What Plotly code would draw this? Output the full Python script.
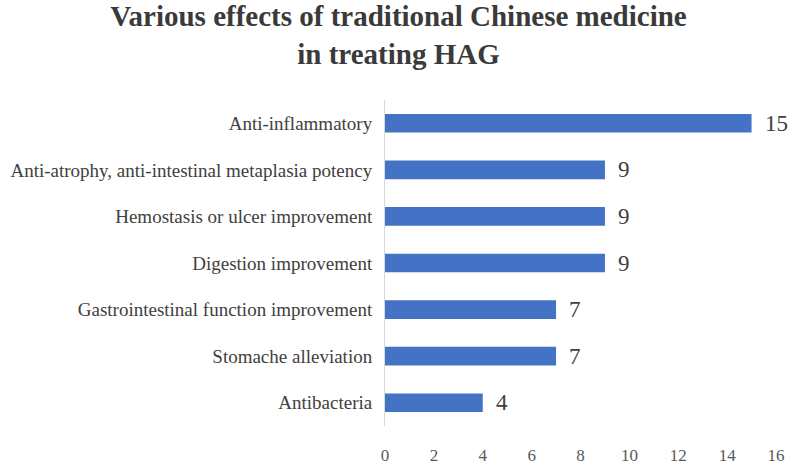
import plotly.graph_objects as go

categories = [
    "Anti-inflammatory",
    "Anti-atrophy, anti-intestinal metaplasia potency",
    "Hemostasis or ulcer improvement",
    "Digestion improvement",
    "Gastrointestinal function improvement",
    "Stomache alleviation",
    "Antibacteria",
]
values = [15, 9, 9, 9, 7, 7, 4]
x_ticks = [0, 2, 4, 6, 8, 10, 12, 14, 16]

fig = go.Figure()
fig.add_trace(go.Bar(
    x=values, y=categories, orientation="h",
    marker=dict(color="#4472C4", line=dict(width=0)),
    width=0.4, hoverinfo="skip",
))
for c, v in zip(categories, values):
    fig.add_annotation(x=v, y=c, text=str(v), showarrow=False,
                       xanchor="left", xshift=11,
                       font=dict(family="Liberation Serif", size=23, color="#404040"))

fig.update_layout(
    width=797, height=475,
    margin=dict(l=385, r=21, t=100, b=49, autoexpand=False),
    paper_bgcolor="white", plot_bgcolor="white",
    showlegend=False,
    title=dict(
        text="<b>Various effects of traditional Chinese medicine<br>in treating HAG</b>",
        x=0.5, xanchor="center", y=0.945, yanchor="middle",
        font=dict(family="Liberation Serif", size=29, color="#3a3a3a"),
    ),
    xaxis=dict(range=[0, 16], tickvals=x_ticks, showgrid=False, zeroline=False,
               showline=False, ticks="outside", ticklen=14,
               tickcolor="rgba(0,0,0,0)", automargin=False,
               tickfont=dict(family="Liberation Serif", size=17, color="#595959")),
    yaxis=dict(autorange="reversed", showgrid=False, zeroline=False,
               showline=True, linecolor="#d9d9d9", linewidth=1,
               ticks="outside", ticklen=8, tickcolor="rgba(0,0,0,0)",
               automargin=False,
               tickfont=dict(family="Liberation Serif", size=19, color="#404040")),
)
fig.write_html("out.html")
